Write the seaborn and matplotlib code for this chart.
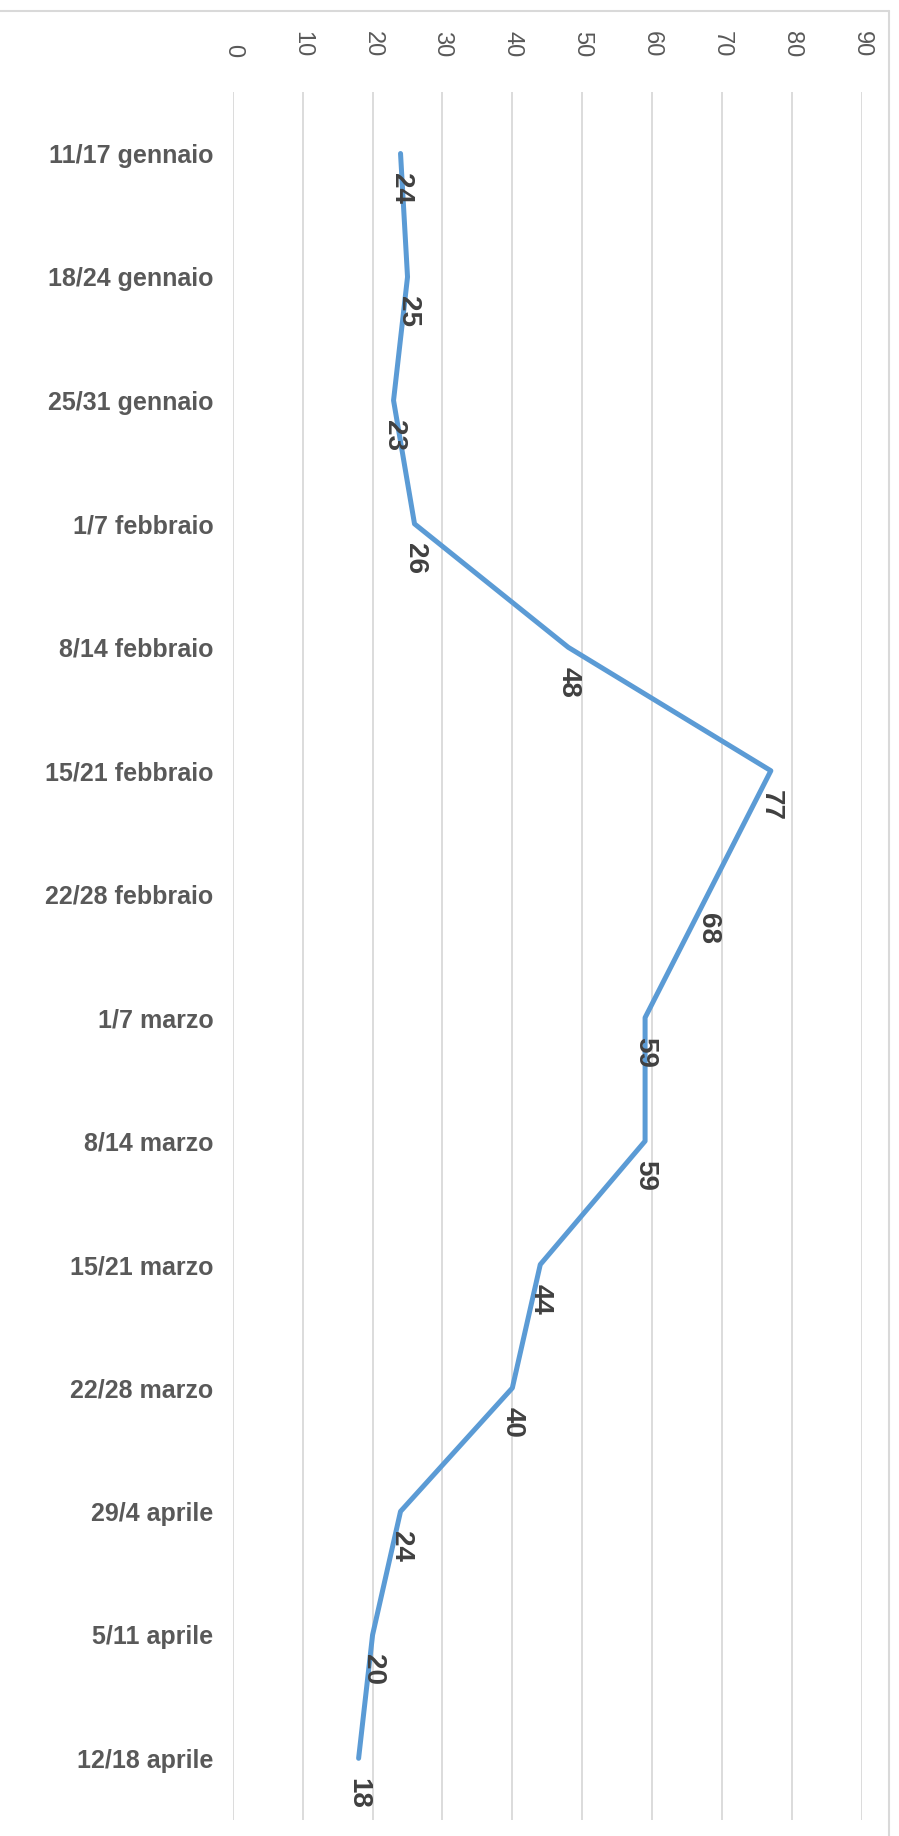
import numpy as np
import pandas as pd
import matplotlib
matplotlib.use("Agg")
import matplotlib.pyplot as plt
import seaborn as sns
from matplotlib import font_manager
from matplotlib.lines import Line2D

weeks = ["11/17 gennaio", "18/24 gennaio", "25/31 gennaio", "1/7 febbraio",
         "8/14 febbraio", "15/21 febbraio", "22/28 febbraio", "1/7 marzo",
         "8/14 marzo", "15/21 marzo", "22/28 marzo", "29/4 aprile",
         "5/11 aprile", "12/18 aprile"]
values = [24, 25, 23, 26, 48, 77, 68, 59, 59, 44, 40, 24, 20, 18]
value_ticks = [0, 10, 20, 30, 40, 50, 60, 70, 80, 90]

sns.set_theme(style="white")

# narrow font looks closer to the Calibri of the original, if available
try:
    font_manager.findfont("Liberation Sans Narrow", fallback_to_default=False)
    label_font = "Liberation Sans Narrow"
except Exception:
    label_font = "Liberation Sans"
plt.rcParams["font.family"] = [label_font, "DejaVu Sans"]

df = pd.DataFrame({"week": weeks, "pos": np.arange(len(weeks)), "value": values})

fig = plt.figure(figsize=(8.99, 18.36), dpi=100)
ax = fig.add_axes([0.259, 0.0087, 0.6995, 0.9413])

# orient="y" so that repeated values (24, 59) are not averaged together
sns.lineplot(data=df, x="value", y="pos", orient="y", estimator=None,
             sort=False, color="#5B9BD5", linewidth=3.6, ax=ax)
ax.lines[0].set_solid_capstyle("round")
ax.lines[0].set_solid_joinstyle("round")

ax.set_xlim(0, 90)
ax.set_ylim(len(weeks) - 0.5, -0.5)
ax.set_xticks(value_ticks)
ax.set_xticklabels([str(v) for v in value_ticks], rotation=270, fontsize=17,
                   color="#595959", family=["Liberation Sans", "DejaVu Sans"])
ax.xaxis.tick_top()
ax.tick_params(axis="x", length=0, pad=25)
ax.set_yticks(df["pos"])
ax.set_yticklabels(weeks, fontsize=18, fontweight="bold", color="#595959")
ax.tick_params(axis="y", length=0, pad=14)
ax.set_xlabel("")
ax.set_ylabel("")
for s in ax.spines.values():
    s.set_visible(False)
ax.grid(axis="x", color="#d9d9d9", linewidth=1.3)
ax.grid(axis="y", visible=False)

for p, v in zip(df["pos"], df["value"]):
    ax.annotate(str(v), (v, p), xytext=(0, -25), textcoords="offset points",
                rotation=270, ha="center", va="center", fontsize=20,
                fontweight="bold", color="#404040",
                family=["Liberation Sans", "DejaVu Sans"])

# light chart-area frame (top and right edges visible)
fig.add_artist(Line2D([0, 889 / 899], [1 - 11 / 1836, 1 - 11 / 1836],
                      transform=fig.transFigure, color="#d9d9d9", linewidth=1.5))
fig.add_artist(Line2D([889 / 899, 889 / 899], [0, 1 - 11 / 1836],
                      transform=fig.transFigure, color="#d9d9d9", linewidth=1.5))

fig.savefig("out.png", dpi=100)
